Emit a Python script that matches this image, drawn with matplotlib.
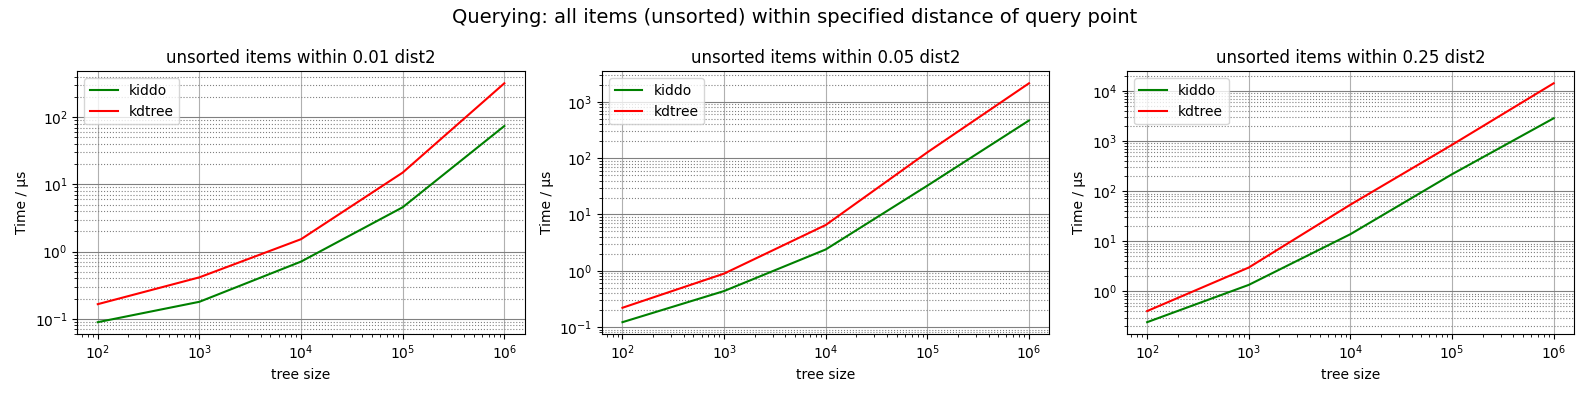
import matplotlib
matplotlib.use("Agg")
import matplotlib.pyplot as plt

# tree sizes and query times (microseconds)
tree_sizes = [1e2, 1e3, 1e4, 1e5, 1e6]
dists = ["0.01", "0.05", "0.25"]

kiddo_times = [
    [0.089, 0.179, 0.71, 4.57, 74],
    [0.122, 0.436, 2.39, 32.5, 467],
    [0.243, 1.35, 13.9, 219, 2870],
]
kdtree_times = [
    [0.165, 0.414, 1.53, 15.0, 320],
    [0.22, 0.89, 6.5, 127, 2140],
    [0.405, 3.0, 54, 847, 14350],
]

fig, axes = plt.subplots(1, 3, figsize=(15.89, 3.97), dpi=100)

for ax, d, k, t in zip(axes, dists, kiddo_times, kdtree_times):
    ax.plot(tree_sizes, k, color="green", label="kiddo")
    ax.plot(tree_sizes, t, color="red", label="kdtree")
    ax.set_xscale("log")
    ax.set_yscale("log")
    ax.grid(True, which="major", axis="x")
    ax.grid(True, which="major", axis="y", color="gray")
    ax.grid(True, which="minor", axis="y", color="gray", linestyle=":", linewidth=0.8)
    ax.set_title(f"unsorted items within {d} dist2")
    ax.set_xlabel("tree size")
    ax.set_ylabel("Time / µs")
    ax.legend(loc="upper left")

fig.suptitle("Querying: all items (unsorted) within specified distance of query point", fontsize=14)
fig.tight_layout()
fig.savefig("out.png")
